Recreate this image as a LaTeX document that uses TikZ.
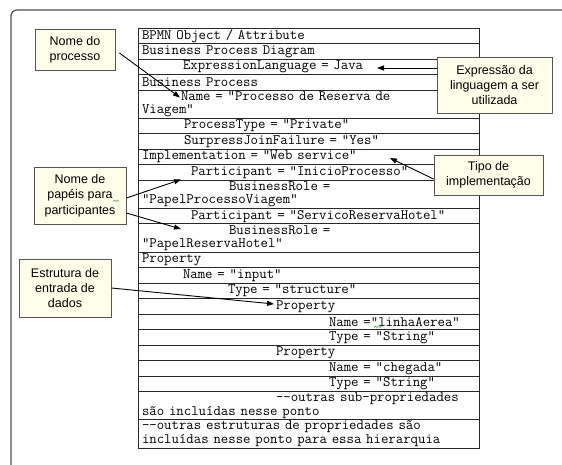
\documentclass[tikz,border=0pt]{standalone}
\usepackage{fontspec}
\setmainfont{Liberation Sans}
\usetikzlibrary{arrows.meta}

\definecolor{notefill}{RGB}{255,255,234}
\definecolor{notedraw}{RGB}{85,85,85}
\definecolor{framegray}{RGB}{80,80,80}
\definecolor{gridline}{RGB}{40,40,40}
\definecolor{spellmark}{RGB}{70,170,70}

\tikzset{
  note/.style={draw=notedraw, fill=notefill, line width=0.9pt, align=center,
    inner sep=0pt, font=\fontsize{12.5}{15.3}\selectfont},
  row/.style={draw=gridline, line width=0.9pt, anchor=north west, outer sep=0pt,
    inner xsep=4pt, inner ysep=0pt, text width=333pt, align=left,
    font=\ttfamily\fontsize{14.4}{13.5}\selectfont},
  single/.style={row, minimum height=15.5pt},
  double/.style={row, minimum height=28.2pt},
  pointer/.style={draw=black, line width=0.9pt, -{Triangle[length=7pt,width=5pt]}},
  spell/.style={draw=spellmark, line width=0.6pt}
}
\newcommand{\ind}[1]{\hspace*{#1pt}}

\begin{document}
\begin{tikzpicture}[x=1pt, y=-1pt]
  \useasboundingbox (0,0) rectangle (562,464);
  \fill[white] (0,0) rectangle (562,464);
  \clip (0,0) rectangle (562,464);

  % page frame, running past the right and bottom edges
  \draw[framegray, line width=1.2pt, rounded corners=6pt] (11,10) rectangle (590,490);

  % attribute table, one node per row
  \node[single] (r1) at (138,28) {BPMN Object / Attribute};
  \node[single] (r2) at (r1.south west) {Business Process Diagram};
  \node[single] (r3) at (r2.south west) {\ind{41}ExpressionLanguage = Java};
  \node[single] (r4) at (r3.south west) {Business Process};
  \node[double] (r5) at (r4.south west) {\ind{39}Name = “Processo de Reserva de\\Viagem”};
  \node[single] (r6) at (r5.south west) {\ind{42}ProcessType = “Private”};
  \node[single] (r7) at (r6.south west) {\ind{42}SurpressJoinFailure = “Yes”};
  \node[single] (r8) at (r7.south west) {Implementation = “Web service”};
  \node[single] (r9) at (r8.south west) {\ind{49}Participant = “InicioProcesso”};
  \node[double] (r10) at (r9.south west) {\ind{87}BusinessRole =\\“PapelProcessoViagem”};
  \node[single] (r11) at (r10.south west) {\ind{49}Participant = “ServicoReservaHotel”};
  \node[double] (r12) at (r11.south west) {\ind{87}BusinessRole =\\“PapelReservaHotel”};
  \node[single] (r13) at (r12.south west) {Property};
  \node[single] (r14) at (r13.south west) {\ind{41}Name = “input”};
  \node[single] (r15) at (r14.south west) {\ind{86}Type = “structure”};
  \node[single] (r16) at (r15.south west) {\ind{134}Property};
  \node[single] (r17) at (r16.south west) {\ind{187}Name =“linhaAerea”};
  \node[single] (r18) at (r17.south west) {\ind{187}Type = “String”};
  \node[single] (r19) at (r18.south west) {\ind{134}Property};
  \node[single] (r20) at (r19.south west) {\ind{187}Name = “chegada”};
  \node[single] (r21) at (r20.south west) {\ind{187}Type = “String”};
  \node[double] (r22) at (r21.south west) {\ind{134}-{}-outras sub-propriedades\\são incluídas nesse ponto};
  \node[double] (r23) at (r22.south west) {-{}-outras estruturas de propriedades são\\incluídas nesse ponto para essa hierarquia};

  % arrow targets inside the table
  \coordinate (tName)  at (180,97.5);
  \coordinate (tJava)  at (377,68);
  \coordinate (tImpl)  at (390,158);
  \coordinate (tPart1) at (181,179.5);
  \coordinate (tPart2) at (181,229);
  \coordinate (tProp)  at (274,304);

  % callout notes
  \node[note, minimum width=80pt,  minimum height=41pt] (nproc) at (75,49.5) {Nome do\\processo};
  \node[note, minimum width=115pt, minimum height=56pt] (nexpr) at (494.5,85) {Expressão da\\linguagem a ser\\utilizada};
  \node[note, minimum width=109pt, minimum height=40pt] (ntipo) at (488.5,175) {Tipo de\\implementação};
  \node[note, minimum width=92pt,  minimum height=57pt] (npap)  at (80,195.5) {Nome de\\papéis para\\participantes};
  \node[note, minimum width=92pt,  minimum height=58pt] (nest)  at (65,288) {Estrutura de\\entrada de\\dados};

  % pointers from the notes into the table
  \draw[pointer] ([shift={(4,3.5)}]nproc.east) -- (tName);
  \draw[pointer] (nexpr.west |- tJava) -- (tJava);
  \draw[pointer] ([yshift=-4pt]ntipo.west) -- (tImpl);
  \draw[pointer] ([yshift=-2.5pt]npap.east) -- (tPart1);
  \draw[pointer] ([yshift=-17.5pt]npap.east) -- (tPart2);
  \draw[pointer] (nest.east) -- (tProp);

  % spell-check underlines
  \draw[spell] (113,201.5) -- ++(1.5,-1.5) -- ++(1.5,1.5) -- ++(1.5,-1.5) -- ++(1.5,1.5);
  \draw[spell] (374,327.5) -- ++(1.5,-1.5) -- ++(1.5,1.5) -- ++(1.5,-1.5) -- ++(1.5,1.5) -- ++(1.5,-1.5);
\end{tikzpicture}
\end{document}
